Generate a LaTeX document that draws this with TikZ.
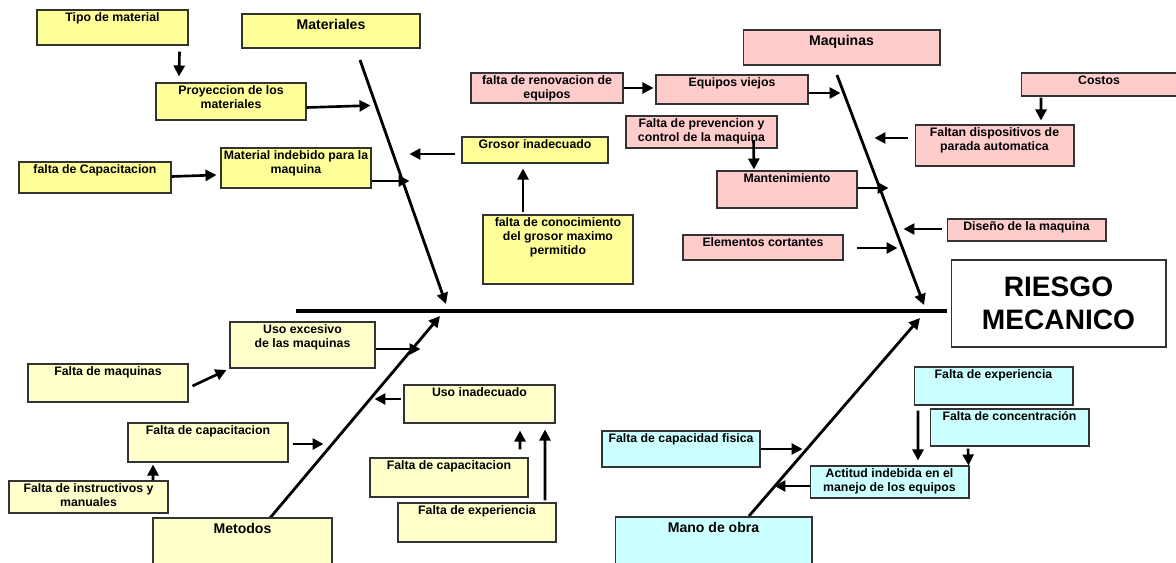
\documentclass[tikz,border=0pt]{standalone}
\usepackage{fontspec}
\setmainfont{Liberation Sans}
\usetikzlibrary{arrows.meta}

\definecolor{yel}{HTML}{FFFF99}
\definecolor{lyel}{HTML}{FFFFCC}
\definecolor{pnk}{HTML}{FFCCCC}
\definecolor{cyn}{HTML}{CCFFFF}
\definecolor{edge}{HTML}{333333}

\begin{document}
\begin{tikzpicture}[x=0.02cm, y=-0.02cm,
  box/.style={draw=edge, line width=0.6pt, inner sep=0pt},
  ybox/.style={box, fill=yel},
  lbox/.style={box, fill=lyel},
  pbox/.style={box, fill=pnk},
  cbox/.style={box, fill=cyn},
  txt/.style={anchor=north, align=center, inner sep=1.5pt, font=\fontsize{7}{8}\selectfont\bfseries},
  head/.style={txt, inner sep=3pt, font=\fontsize{8}{9.5}\selectfont\bfseries},
  arr/.style={-{Triangle[length=2.2mm,width=2.2mm]}, line width=1.5pt},
  bone/.style={arr, line width=1.6pt}]

\clip (0,0) rectangle (1176,562);
\fill[white] (0,0) rectangle (1176,562);

% spine and bones
\coordinate (spL) at (296,311);
\coordinate (spR) at (947,311);
\draw[line width=2.2pt] (spL) -- (spR);
\coordinate (matT) at (360,60);
\coordinate (matB) at (446,304);
\coordinate (maqT) at (837,75);
\coordinate (maqB) at (924,305);
\coordinate (metB) at (270,518);
\coordinate (metT) at (440,316);
\coordinate (manB) at (749,516);
\coordinate (manT) at (920,318);
\foreach \a/\b in {matT/matB, maqT/maqB, metB/metT, manB/manT} {
\draw[bone] (\a) -- (\b);
}

% Materiales
\node[ybox, minimum width=3.02cm, minimum height=0.70cm, label={[txt]above:Tipo de material}] (tipo) at (112.5,27.5) {};
\node[ybox, minimum width=3.56cm, minimum height=0.68cm, label={[head]above:Materiales}] (mat) at (331,31) {};
\node[ybox, minimum width=3.00cm, minimum height=0.74cm, label={[txt]above:Proyeccion de los\\materiales}] (proy) at (231,101.5) {};
\node[ybox, minimum width=3.04cm, minimum height=0.62cm, label={[txt]above:falta de Capacitacion}] (fcap) at (95,177.5) {};
\node[ybox, minimum width=3.00cm, minimum height=0.80cm, label={[txt]above:Material indebido para la\\maquina}] (mind) at (296,168) {};
\node[ybox, minimum width=2.92cm, minimum height=0.52cm, label={[txt]above:Grosor inadecuado}] (gros) at (535,150) {};
\node[ybox, minimum width=3.00cm, minimum height=1.38cm, label={[txt]above:falta de conocimiento\\del grosor maximo\\permitido}] (fcon) at (558,249.5) {};

% Metodos
\node[lbox, minimum width=2.90cm, minimum height=0.92cm, label={[txt]above:Uso excesivo\\de las maquinas}] (usoe) at (302.5,345) {};
\node[lbox, minimum width=3.20cm, minimum height=0.76cm, label={[txt]above:Falta de maquinas}] (fmaq) at (108,383) {};
\node[lbox, minimum width=3.20cm, minimum height=0.78cm, label={[txt]above:Falta de capacitacion}] (fcapm) at (208,442.5) {};
\node[lbox, minimum width=3.18cm, minimum height=0.64cm, label={[txt]above:Falta de instructivos y\\manuales}] (finst) at (88.5,497) {};
\node[lbox, minimum width=3.58cm, minimum height=1.24cm, label={[head]above:Metodos}] (met) at (242.5,549) {};
\node[lbox, minimum width=3.02cm, minimum height=0.76cm, label={[txt]above:Uso inadecuado}] (usoi) at (479.5,404) {};
\node[lbox, minimum width=3.16cm, minimum height=0.78cm, label={[txt]above:Falta de capacitacion}] (fcapu) at (449,477.5) {};
\node[lbox, minimum width=3.16cm, minimum height=0.78cm, label={[txt]above:Falta de experiencia}] (fexpu) at (477,522.5) {};

% Maquinas
\node[pbox, minimum width=3.94cm, minimum height=0.70cm, label={[head]above:Maquinas}] (maq) at (841.5,47.5) {};
\node[pbox, minimum width=3.04cm, minimum height=0.60cm, label={[txt]above:falta de renovacion de\\equipos}] (fren) at (547,88) {};
\node[pbox, minimum width=3.04cm, minimum height=0.58cm, label={[txt]above:Equipos viejos}] (eqv) at (732,89.5) {};
\node[pbox, minimum width=3.02cm, minimum height=0.64cm, label={[txt]above:Falta de prevencion y\\control de la maquina}] (fprev) at (701.5,132) {};
\node[pbox, minimum width=2.80cm, minimum height=0.74cm, label={[txt]above:Mantenimiento}] (mant) at (787,189.5) {};
\node[pbox, minimum width=3.20cm, minimum height=0.50cm, label={[txt]above:Elementos cortantes}] (elem) at (763,247.5) {};
\node[pbox, minimum width=3.12cm, minimum height=0.46cm, label={[txt]above:Costos}] (cost) at (1099,84.5) {};
\node[pbox, minimum width=3.18cm, minimum height=0.82cm, label={[txt]above:Faltan dispositivos de\\parada automatica}] (fdis) at (994.5,145.5) {};
\node[pbox, minimum width=3.18cm, minimum height=0.44cm, label={[txt]above:Diseño de la maquina}] (dis) at (1026.5,230) {};

% efecto
\node[box, fill=white, minimum width=4.30cm, minimum height=1.74cm, align=center, font=\fontsize{16}{19}\selectfont\bfseries] (riesgo) at (1058.5,303.5) {RIESGO\\MECANICO};

% Mano de obra
\node[cbox, minimum width=3.18cm, minimum height=0.76cm, label={[txt]above:Falta de experiencia}] (fexpm) at (993.5,386) {};
\node[cbox, minimum width=3.18cm, minimum height=0.74cm, label={[txt]above:Falta de concentración}] (fconc) at (1009.5,427.5) {};
\node[cbox, minimum width=3.16cm, minimum height=0.72cm, label={[txt]above:Falta de capacidad fisica}] (fcapf) at (681,449) {};
\node[cbox, minimum width=3.18cm, minimum height=0.64cm, label={[txt]above:Actitud indebida en el\\manejo de los equipos}] (act) at (889.5,482) {};
\node[cbox, minimum width=3.94cm, minimum height=1.26cm, label={[head]above:Mano de obra}] (mano) at (713.5,548.5) {};

% flechas
\draw[arr] ([shift={(-9,6)}]tipo.south east) -- ([shift={(-52,-6)}]proy.north);
\draw[arr] ([shift={(0,6)}]proy.east) -- ([shift={(64,4)}]proy.east);
\draw[arr] ([shift={(0,-1)}]fcap.east) -- ([shift={(-4,7)}]mind.west);
\draw[arr] ([shift={(0,13)}]mind.east) -- ([shift={(38,13)}]mind.east);
\draw[arr] ([shift={(-6,4)}]gros.west) -- ([shift={(-52,4)}]gros.west);
\draw[arr] ([shift={(-35,-2)}]fcon.north) -- ([shift={(-12,5)}]gros.south);

\draw[arr] (fren.east) -- ([shift={(-2,-1.5)}]eqv.west);
\draw[arr] ([shift={(0,3.5)}]eqv.east) -- ([shift={(32,3.5)}]eqv.east);
\draw[arr] ([shift={(52,8)}]fprev.center) -- ([shift={(-33,-1)}]mant.north);
\draw[arr] ([shift={(0,-1.5)}]mant.east) -- ([shift={(31,-1.5)}]mant.east);
\draw[arr] ([shift={(13,0.5)}]elem.east) -- ([shift={(54,0.5)}]elem.east);
\draw[arr] ([shift={(-58,1)}]cost.south) -- ([shift={(46.5,-4)}]fdis.north);
\draw[arr] ([shift={(-7,-7.5)}]fdis.west) -- ([shift={(-40,-7.5)}]fdis.west);
\draw[arr] ([shift={(-5,-1)}]dis.west) -- ([shift={(-43,-1)}]dis.west);

\draw[arr] ([shift={(0,4)}]usoe.east) -- ([shift={(45,4)}]usoe.east);
\draw[arr] ([shift={(4,3)}]fmaq.east) -- ([shift={(-3,25)}]usoe.west);
\draw[arr] ([shift={(4,1.5)}]fcapm.east) -- ([shift={(35,1.5)}]fcapm.east);
\draw[arr] ([shift={(64.5,0)}]finst.north) -- ([shift={(-55,2)}]fcapm.south);
\draw[arr] ([shift={(-2,-5)}]usoi.west) -- ([shift={(-29,-5)}]usoi.west);
\draw[arr] ([shift={(71,-8)}]fcapu.north) -- ([shift={(40.5,7)}]usoi.south);
\draw[arr] ([shift={(68,-2)}]fexpu.north) -- ([shift={(65.5,6)}]usoi.south);

\draw[arr] (fcapf.east) -- ([shift={(42,0)}]fcapf.east);
\draw[arr] ([shift={(0,4)}]act.west) -- ([shift={(-35,4)}]act.west);
\draw[arr] ([shift={(-75.5,5)}]fexpm.south) -- ([shift={(28.5,-5)}]act.north);
\draw[arr] ([shift={(-41.5,2)}]fconc.south) -- ([shift={(-1,0)}]act.north east);

\end{tikzpicture}
\end{document}
